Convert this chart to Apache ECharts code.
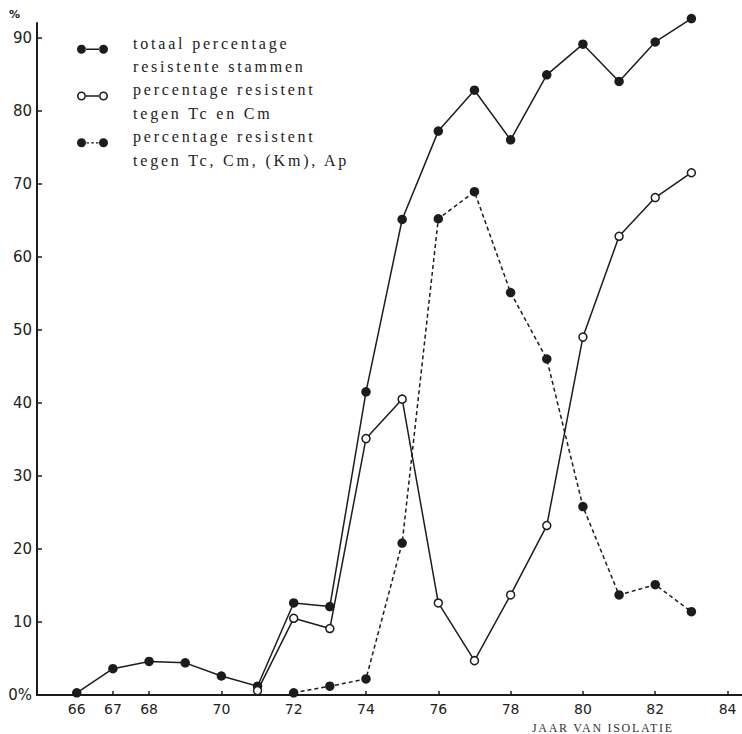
<!DOCTYPE html>
<html>
<head>
<meta charset="utf-8">
<script src="https://cdn.jsdelivr.net/npm/echarts@6/dist/echarts.min.js"></script>
<style>
html, body { margin: 0; padding: 0; background: #ffffff; }
#main { width: 742px; height: 734px; }
#main svg text[style*="16px"] { letter-spacing: 2.8px; }
#main svg text[style*="12px"] { letter-spacing: 1.7px; }
</style>
</head>
<body>
<div id="main"></div>
<script>
// ---- data ----
const seriesNames = [
  'totaal percentage\nresistente stammen',
  'percentage resistent\ntegen Tc en Cm',
  'percentage resistent\ntegen Tc, Cm, (Km), Ap'
];
const yearsTotal = [66, 67, 68, 69, 70, 71, 72, 73, 74, 75, 76, 77, 78, 79, 80, 81, 82, 83];
const valuesTotal = [0.3, 3.6, 4.6, 4.4, 2.6, 1.2, 12.6, 12.1, 41.5, 65.1, 77.2, 82.8, 76.0, 84.9, 89.1, 84.0, 89.4, 92.6];
const yearsTcCm = [71, 72, 73, 74, 75, 76, 77, 78, 79, 80, 81, 82, 83];
const valuesTcCm = [0.6, 10.5, 9.1, 35.1, 40.5, 12.6, 4.7, 13.7, 23.2, 49.0, 62.8, 68.1, 71.5];
const yearsAp = [72, 73, 74, 75, 76, 77, 78, 79, 80, 81, 82, 83];
const valuesAp = [0.3, 1.2, 2.2, 20.8, 65.2, 68.9, 55.1, 46.0, 25.8, 13.7, 15.1, 11.4];
const xTickValues = [66, 67, 68, 70, 72, 74, 76, 78, 80, 82, 84];
const yTickValues = [0, 10, 20, 30, 40, 50, 60, 70, 80, 90];
const xAxisTitle = 'JAAR VAN ISOLATIE';
const yAxisUnit = '%';

const ink = '#1c1c1c';
const pair = (xs, ys) => xs.map((x, i) => [x, ys[i]]);

// legend icons: 31 x 48 box (invisible corner points fix the box), marks near the first text line
const box = 'M0,0L0.01,0ZM31,48L30.99,48Z';
const dots = 'M0,18.2a4.5,4.5 0 1,0 9,0a4.5,4.5 0 1,0 -9,0ZM22,18.2a4.5,4.5 0 1,0 9,0a4.5,4.5 0 1,0 -9,0Z';
const holes = 'M1.6,18.2a2.9,2.9 0 1,1 5.8,0a2.9,2.9 0 1,1 -5.8,0ZM23.6,18.2a2.9,2.9 0 1,1 5.8,0a2.9,2.9 0 1,1 -5.8,0Z';
const iconFilled = 'path://' + box + dots + 'M8.5,17.5H22.5V18.9H8.5Z';
const iconOpen = 'path://' + box + dots + holes + 'M8.8,17.5H22.2V18.9H8.8Z';
const iconDashed = 'path://' + box + dots + 'M9.5,17.6H12V18.8H9.5ZM14.2,17.6H16.8V18.8H14.2ZM19,17.6H21.5V18.8H19Z';

const chart = echarts.init(document.getElementById('main'), null, { renderer: 'svg' });
chart.setOption({
  animation: false,
  backgroundColor: '#ffffff',
  grid: { left: 37, right: 0, top: 23, bottom: 39, containLabel: false },
  legend: {
    orient: 'vertical',
    left: 77,
    top: 31,
    padding: 0,
    itemWidth: 31,
    itemHeight: 48,
    itemGap: -1.2,
    selectedMode: false,
    textStyle: {
      fontFamily: 'Liberation Serif',
      fontSize: 16,
      lineHeight: 23.7,
      color: '#222',
      padding: [0, 0, 0, 20]
    },
    data: [
      { name: seriesNames[0], icon: iconFilled, itemStyle: { color: ink, borderWidth: 0 } },
      { name: seriesNames[1], icon: iconOpen, itemStyle: { color: ink, borderWidth: 0 } },
      { name: seriesNames[2], icon: iconDashed, itemStyle: { color: ink, borderWidth: 0 } }
    ]
  },
  xAxis: {
    type: 'value',
    min: 64.9,
    max: 84.4,
    axisLine: { show: true, lineStyle: { color: ink, width: 2 } },
    axisTick: { show: true, inside: true, length: 4, lineStyle: { color: ink, width: 1.5 }, customValues: xTickValues },
    axisLabel: { customValues: xTickValues, margin: 7, fontFamily: 'DejaVu Sans', fontSize: 14, color: '#222' },
    splitLine: { show: false }
  },
  yAxis: {
    type: 'value',
    min: 0,
    max: 92,
    name: yAxisUnit,
    nameLocation: 'end',
    nameGap: 3,
    nameTextStyle: { fontFamily: 'DejaVu Sans', fontSize: 11, fontWeight: 'bold', color: '#222', align: 'right', verticalAlign: 'bottom', padding: [0, 17, 0, 0] },
    axisLine: { show: true, lineStyle: { color: ink, width: 2 } },
    axisTick: { show: true, inside: true, length: 5, lineStyle: { color: ink, width: 1.5 }, customValues: yTickValues.slice(1) },
    axisLabel: {
      customValues: yTickValues,
      margin: 5,
      fontFamily: 'DejaVu Sans',
      fontSize: 15,
      color: '#222',
      formatter: v => (v === 0 ? '0%' : String(v))
    },
    splitLine: { show: false }
  },
  graphic: [
    {
      type: 'text',
      left: 532,
      top: 722,
      style: { text: xAxisTitle, fontFamily: 'Liberation Serif', fontSize: 12, fill: '#333' }
    }
  ],
  series: [
    {
      name: seriesNames[0],
      type: 'line',
      data: pair(yearsTotal, valuesTotal),
      clip: false,
      symbol: 'circle',
      symbolSize: 9.5,
      lineStyle: { color: ink, width: 1.5 },
      itemStyle: { color: ink, borderWidth: 0 },
      z: 3
    },
    {
      name: seriesNames[1],
      type: 'line',
      data: pair(yearsTcCm, valuesTcCm),
      clip: false,
      symbol: 'circle',
      symbolSize: 8,
      lineStyle: { color: ink, width: 1.5 },
      itemStyle: { color: '#ffffff', borderColor: ink, borderWidth: 1.5 },
      z: 4
    },
    {
      name: seriesNames[2],
      type: 'line',
      data: pair(yearsAp, valuesAp),
      clip: false,
      symbol: 'circle',
      symbolSize: 9.5,
      lineStyle: { color: ink, width: 1.5, type: [4, 3] },
      itemStyle: { color: ink, borderWidth: 0 },
      z: 3
    }
  ]
});
</script>
</body>
</html>
